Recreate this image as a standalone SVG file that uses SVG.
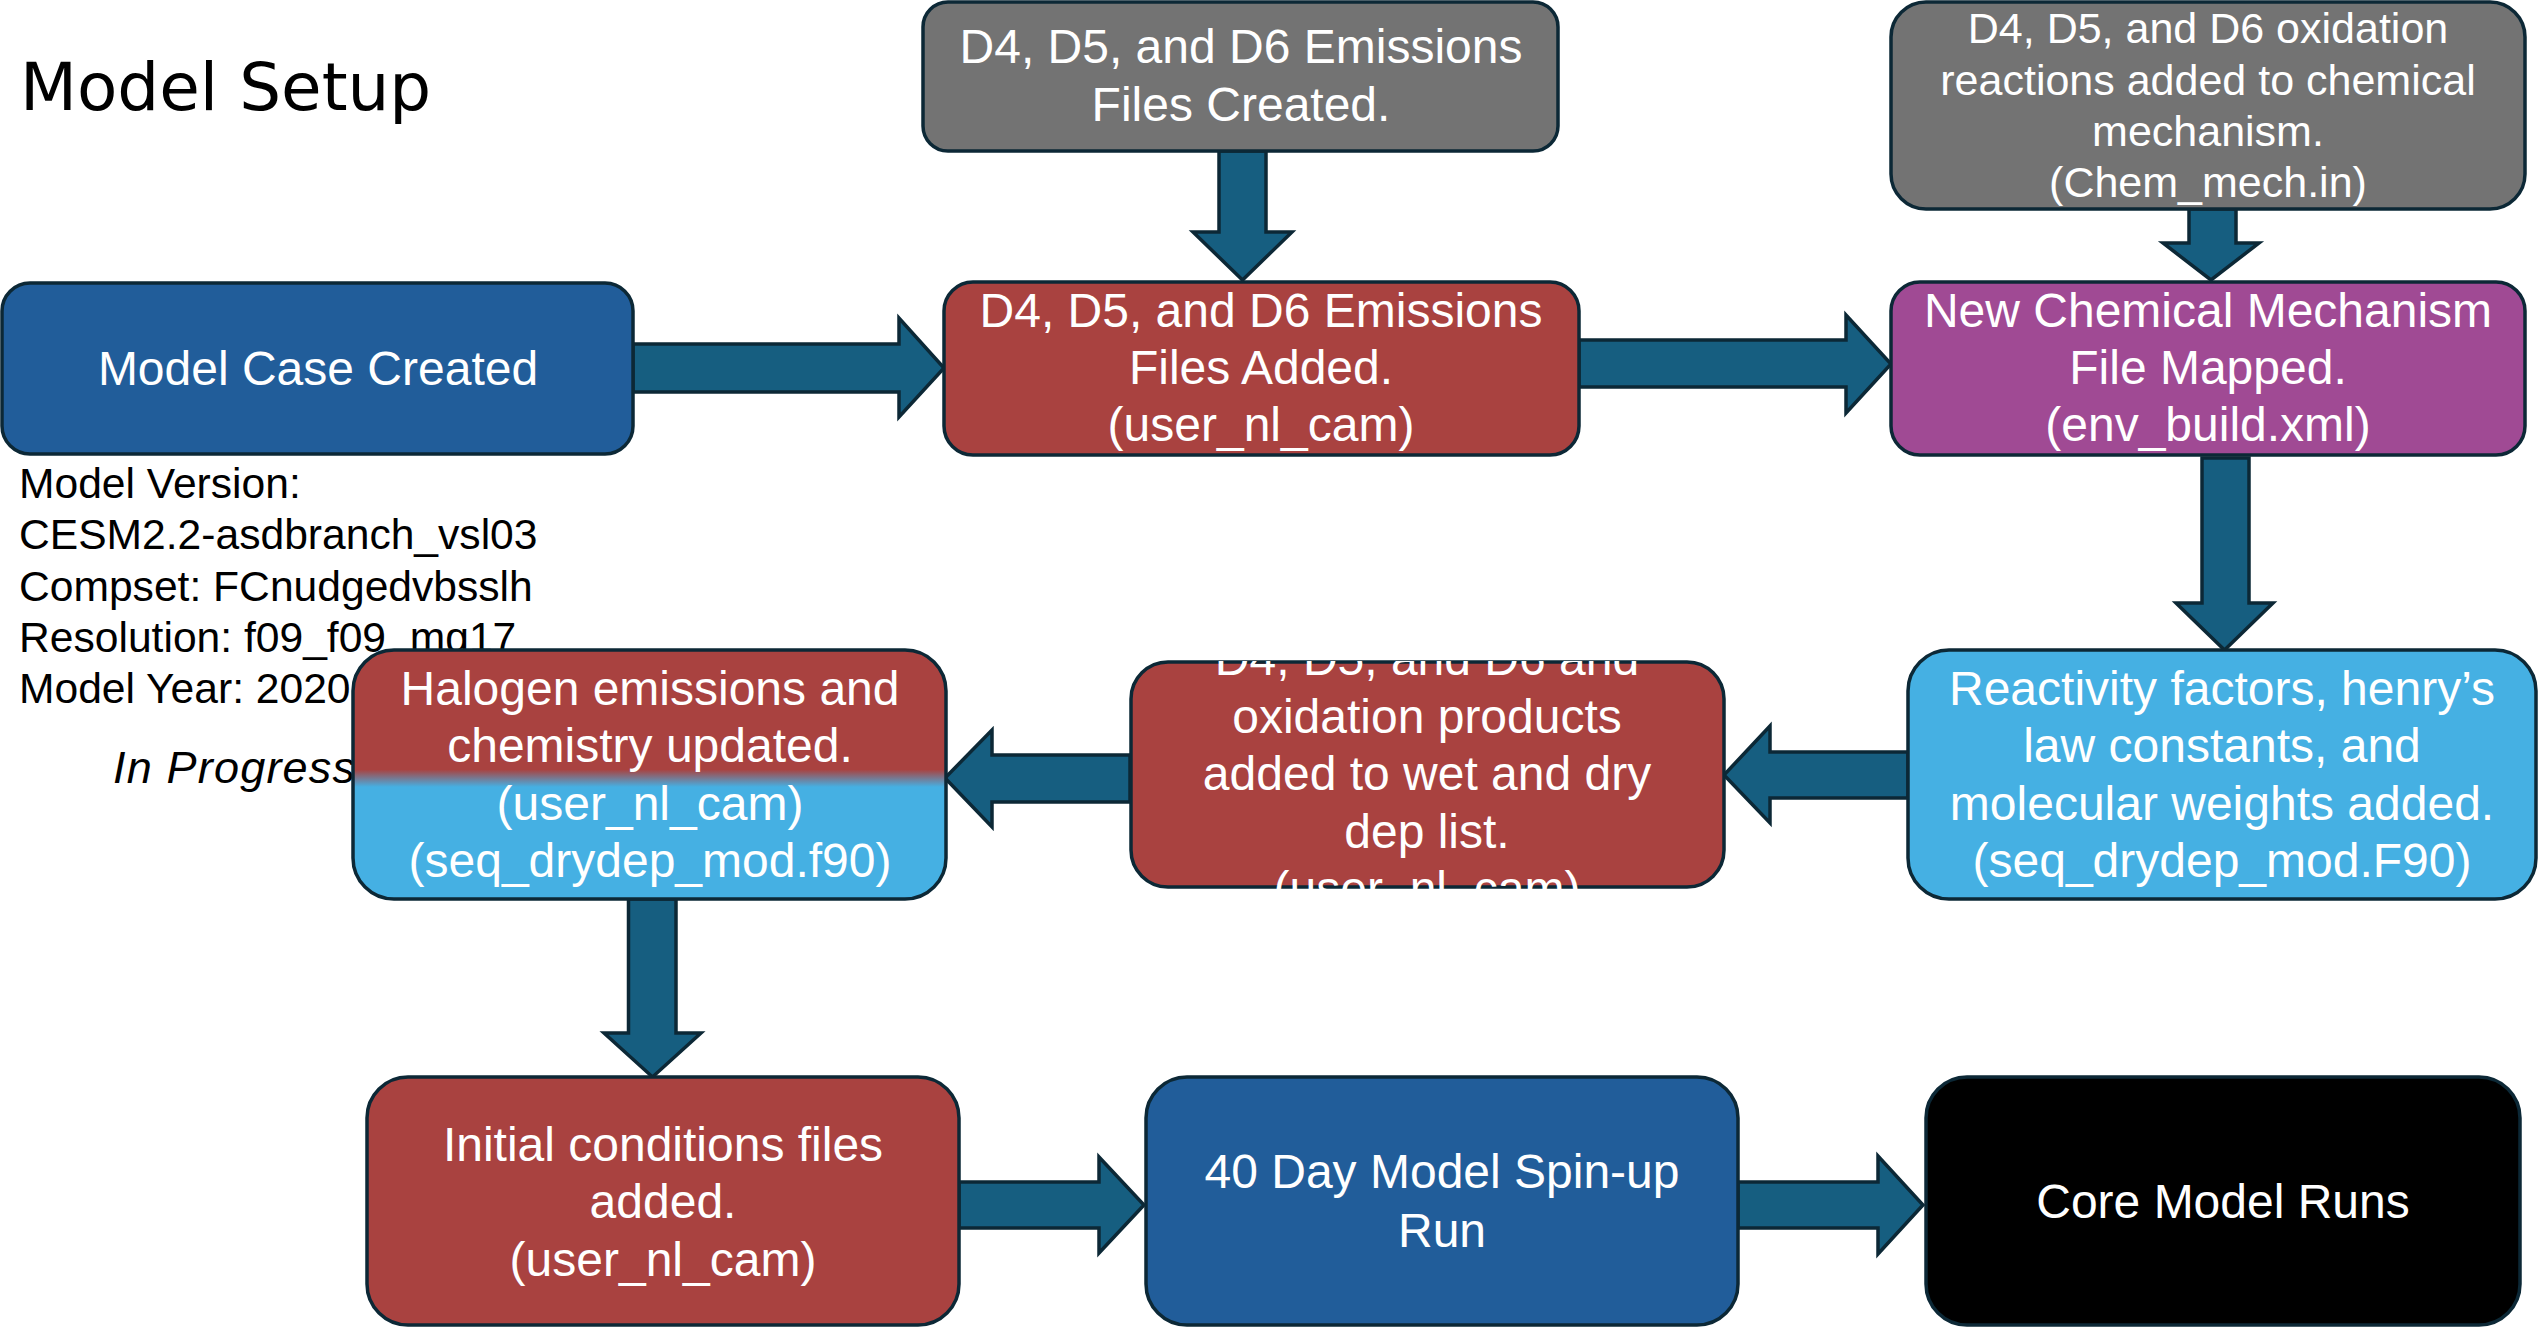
<svg xmlns="http://www.w3.org/2000/svg" width="2539" height="1327" viewBox="0 0 2539 1327">
<style>
.box{stroke:#0C2836;stroke-width:3.5}
.arr{fill:#165E80;stroke:#0C2836;stroke-width:3.5;stroke-linejoin:miter}
.t{font-family:"Liberation Sans",Arial,sans-serif;font-size:48px;fill:#FFFFFF;text-anchor:middle}
.t43{font-family:"Liberation Sans",Arial,sans-serif;font-size:43px;fill:#FFFFFF;text-anchor:middle}
.info{font-family:"Liberation Sans",Arial,sans-serif;font-size:42.6px;fill:#000000}
</style>
<defs>
<linearGradient id="halo" x1="0" y1="0" x2="0" y2="1">
<stop offset="0" stop-color="#A94240"/>
<stop offset="0.48" stop-color="#A94240"/>
<stop offset="0.55" stop-color="#45B0E3"/>
<stop offset="1" stop-color="#45B0E3"/>
</linearGradient>
<clipPath id="clipRed2"><rect x="1129" y="661" width="597" height="228"/></clipPath>
</defs>
<rect width="2539" height="1327" fill="#FFFFFF"/>
<text x="20" y="110" style="font-family:'DejaVu Sans',sans-serif;font-size:66px;fill:#000">Model Setup</text>
<g id="info">
<text class="info" x="19" y="498">Model Version:</text>
<text class="info" x="19" y="549">CESM2.2-asdbranch_vsl03</text>
<text class="info" x="19" y="601">Compset: FCnudgedvbsslh</text>
<text class="info" x="19" y="652">Resolution: f09_f09_mg17</text>
<text class="info" x="19" y="703">Model Year: 2020</text>
<text x="113" y="783" textLength="242" style="font-family:'Liberation Sans',Arial,sans-serif;font-size:45px;font-style:italic;fill:#000">In Progress</text>
</g>
<g id="connectors">
<polygon class="arr" points="633,344 899,344 899,318 944,368 899,417 899,392 633,392"/>
<polygon class="arr" points="1219,151 1266,151 1266,232 1292,232 1242.5,280 1193,232 1219,232"/>
<polygon class="arr" points="1579,340 1846,340 1846,315 1891,364 1846,413 1846,387 1579,387"/>
<polygon class="arr" points="2189,209 2236,209 2236,243 2259,243 2211,280 2163,243 2189,243"/>
<polygon class="arr" points="2202,458 2249,458 2249,603 2273,603 2224.5,650 2176,603 2202,603"/>
<polygon class="arr" points="1908,752 1770,752 1770,726 1724,775 1770,823 1770,798 1908,798"/>
<polygon class="arr" points="1130,755 992,755 992,730 945,778 992,827 992,802 1130,802"/>
<polygon class="arr" points="628.5,899 676,899 676,1033 701,1033 652.5,1077 604,1033 628.5,1033"/>
<polygon class="arr" points="959,1182 1099,1182 1099,1157 1144,1205 1099,1253 1099,1228 959,1228"/>
<polygon class="arr" points="1738,1182 1878,1182 1878,1156 1923,1205 1878,1254 1878,1228 1738,1228"/>
</g>
<g id="node-case">
<rect class="box" x="2" y="283" width="631" height="171" rx="28" fill="#215D9A"/>
<text class="t" x="318" y="385">Model Case Created</text>
</g>
<g id="node-emis-created">
<rect class="box" x="923" y="2" width="635" height="149" rx="25" fill="#737373"/>
<text class="t" x="1241" y="63">D4, D5, and D6 Emissions</text>
<text class="t" x="1241" y="121">Files Created.</text>
</g>
<g id="node-oxid-reactions">
<rect class="box" x="1891" y="2" width="634" height="207" rx="35" fill="#737373"/>
<text class="t43" x="2208" y="43">D4, D5, and D6 oxidation</text>
<text class="t43" x="2208" y="95">reactions added to chemical</text>
<text class="t43" x="2208" y="146">mechanism.</text>
<text class="t43" x="2208" y="197">(Chem_mech.in)</text>
</g>
<g id="node-emis-added">
<rect class="box" x="944" y="282" width="635" height="173" rx="29" fill="#A94240"/>
<text class="t" x="1261" y="327">D4, D5, and D6 Emissions</text>
<text class="t" x="1261" y="384">Files Added.</text>
<text class="t" x="1261" y="441">(user_nl_cam)</text>
</g>
<g id="node-mech-mapped">
<rect class="box" x="1891" y="282" width="634" height="173" rx="29" fill="#A04A94"/>
<text class="t" x="2208" y="327">New Chemical Mechanism</text>
<text class="t" x="2208" y="384">File Mapped.</text>
<text class="t" x="2208" y="441">(env_build.xml)</text>
</g>
<g id="node-reactivity">
<rect class="box" x="1908" y="650" width="628" height="249" rx="41" fill="#45B0E3"/>
<text class="t" x="2222" y="705">Reactivity factors, henry’s</text>
<text class="t" x="2222" y="762">law constants, and</text>
<text class="t" x="2222" y="820">molecular weights added.</text>
<text class="t" x="2222" y="877">(seq_drydep_mod.F90)</text>
</g>
<g id="node-wetdry">
<rect class="box" x="1131" y="662" width="593" height="225" rx="37" fill="#A94240"/>
<g clip-path="url(#clipRed2)">
<text class="t" x="1427" y="675">D4, D5, and D6 and</text>
<text class="t" x="1427" y="733">oxidation products</text>
<text class="t" x="1427" y="790">added to wet and dry</text>
<text class="t" x="1427" y="848">dep list.</text>
<text class="t" x="1427" y="905">(user_nl_cam)</text>
</g>
</g>
<g id="node-halogen">
<rect class="box" x="353" y="650" width="593" height="249" rx="41" fill="url(#halo)"/>
<text class="t" x="650" y="705">Halogen emissions and</text>
<text class="t" x="650" y="762">chemistry updated.</text>
<text class="t" x="650" y="820">(user_nl_cam)</text>
<text class="t" x="650" y="877">(seq_drydep_mod.f90)</text>
</g>
<g id="node-initial">
<rect class="box" x="367" y="1077" width="592" height="248" rx="41" fill="#A94240"/>
<text class="t" x="663" y="1161">Initial conditions files</text>
<text class="t" x="663" y="1218">added.</text>
<text class="t" x="663" y="1276">(user_nl_cam)</text>
</g>
<g id="node-spinup">
<rect class="box" x="1146" y="1077" width="592" height="248" rx="41" fill="#215D9A"/>
<text class="t" x="1442" y="1188">40 Day Model Spin-up</text>
<text class="t" x="1442" y="1247">Run</text>
</g>
<g id="node-core">
<rect class="box" x="1926" y="1077" width="594" height="248" rx="41" fill="#000000"/>
<text class="t" x="2223" y="1218">Core Model Runs</text>
</g>
</svg>
